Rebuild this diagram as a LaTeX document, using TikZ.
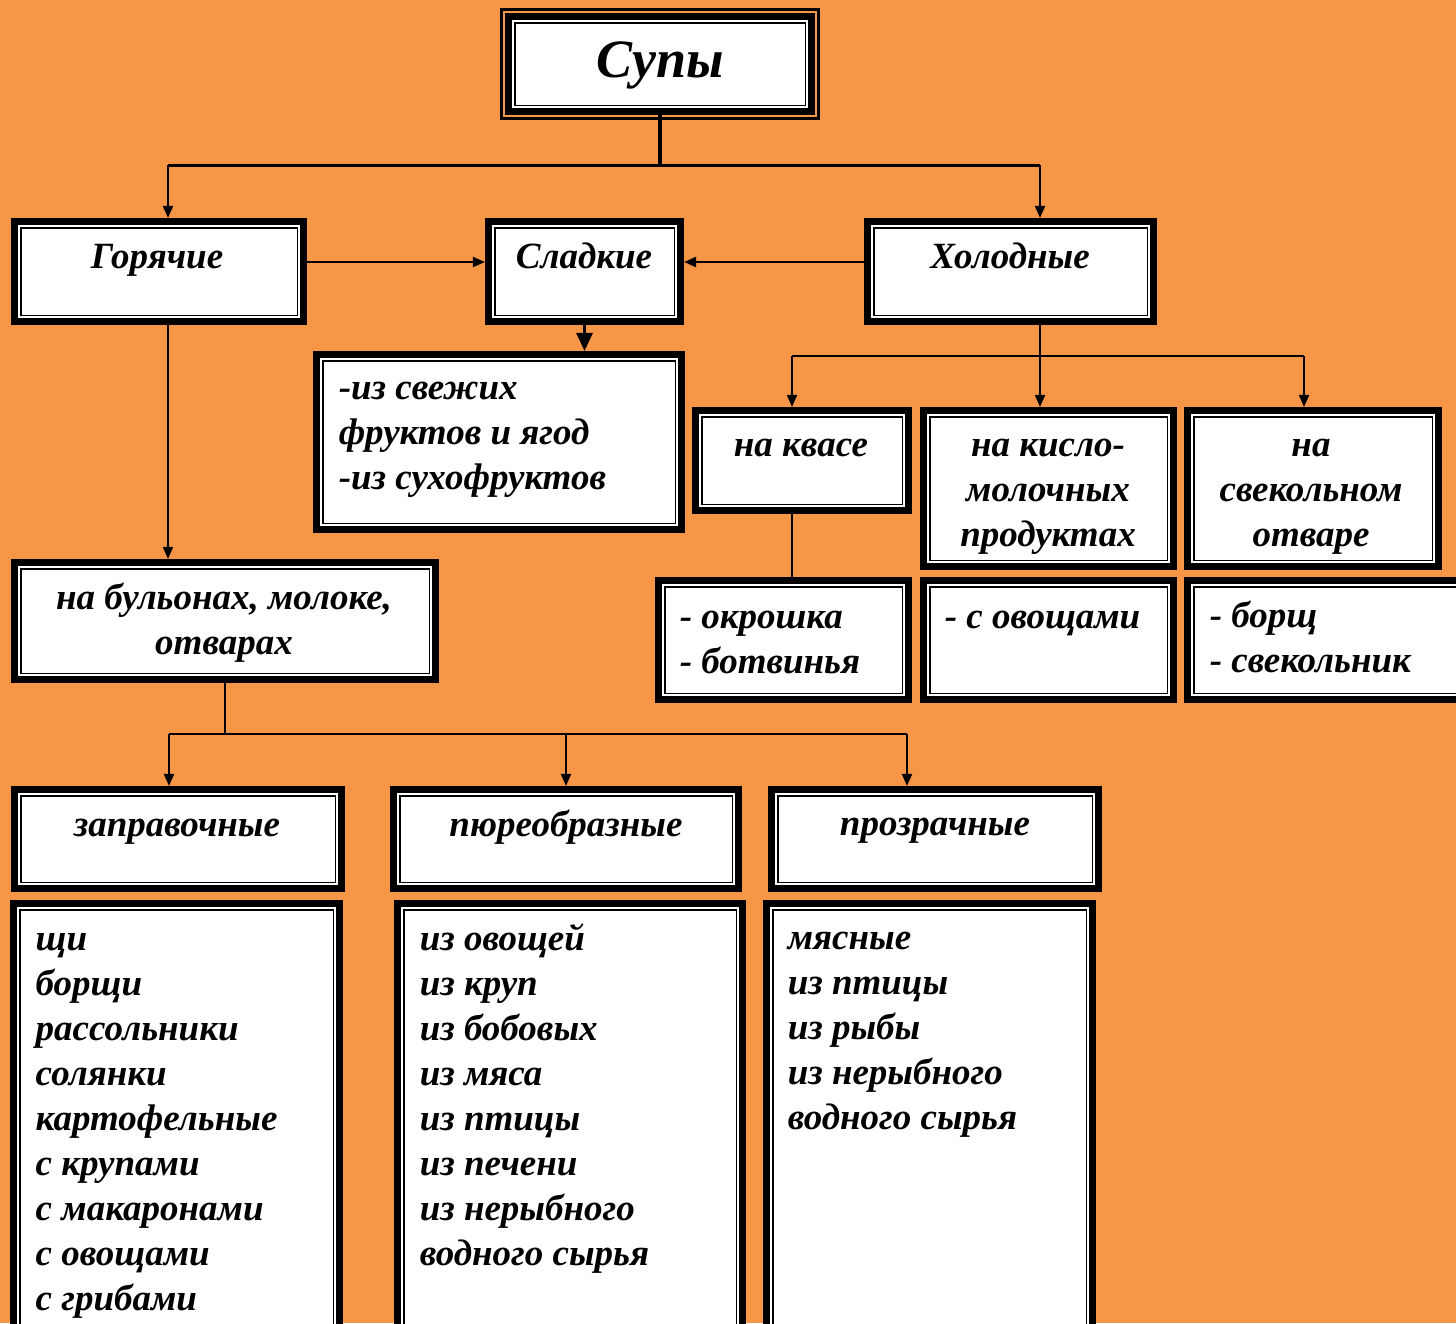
\documentclass[tikz,border=0pt]{standalone}
\usepackage{fontspec}
\setmainfont{Liberation Serif}
\usetikzlibrary{arrows.meta}
\definecolor{bgorange}{HTML}{F79646}

\tikzset{every picture/.style={line width=0.75pt}}
\tikzset{
  box/.style={rectangle, inner sep=0pt, outer sep=4.9pt, fill=white, draw=black, line width=0.75pt,
    preaction={draw=black, line width=9.75pt}, preaction={draw=white, line width=2.75pt}},
  lbl/.style={inner sep=0pt, font=\fontsize{18.5}{22.5}\selectfont\bfseries\itshape},
  arr/.style={-{Triangle[length=6pt,width=5pt]}, line width=1pt},
  link/.style={line width=1pt}
}

\begin{document}
\begin{tikzpicture}[x=0.5pt,y=0.5pt,yscale=-1,xscale=1]
\fill[bgorange] (0,0) rectangle (1456,1323);
\useasboundingbox (0,0) rectangle (1456,1323);
\clip (0,0) rectangle (1456,1323);

%Shape: Rectangle [id:sup]
\draw (660,64) node [draw, line width=1.5pt, minimum width=158.5pt, minimum height=54.5pt, inner sep=0pt] (supfr) {};
\draw (660,64) node [box, minimum width=145.25pt, minimum height=41.25pt] (sup) {};
%Shape: Rectangle [id:gor]
\draw (159,271.5) node [box, minimum width=138.25pt, minimum height=43.75pt] (gor) {};
%Shape: Rectangle [id:sla]
\draw (584.5,271.5) node [box, minimum width=89.75pt, minimum height=43.75pt] (sla) {};
%Shape: Rectangle [id:hol]
\draw (1010.5,271.5) node [box, minimum width=136.75pt, minimum height=43.75pt] (hol) {};
%Shape: Rectangle [id:fruit]
\draw (499,442) node [box, minimum width=176.25pt, minimum height=81.25pt] (fruit) {};
%Shape: Rectangle [id:bul]
\draw (225,621) node [box, minimum width=204.25pt, minimum height=52.25pt] (bul) {};
%Shape: Rectangle [id:kvas]
\draw (802,460.5) node [box, minimum width=100.25pt, minimum height=43.75pt] (kvas) {};
%Shape: Rectangle [id:kis]
\draw (1048.5,488.5) node [box, minimum width=118.75pt, minimum height=71.75pt] (kis) {};
%Shape: Rectangle [id:svek]
\draw (1313,488.5) node [box, minimum width=119.25pt, minimum height=71.75pt] (svek) {};
%Shape: Rectangle [id:okr]
\draw (783.5,640) node [box, minimum width=118.75pt, minimum height=53.25pt] (okr) {};
%Shape: Rectangle [id:ovo]
\draw (1048.5,640) node [box, minimum width=118.75pt, minimum height=53.25pt] (ovo) {};
%Shape: Rectangle [id:bor]
\draw (1327,640) node [box, minimum width=133.25pt, minimum height=53.25pt] (bor) {};
%Shape: Rectangle [id:zap]
\draw (178,839) node [box, minimum width=157.25pt, minimum height=43.25pt] (zap) {};
%Shape: Rectangle [id:pyu]
\draw (566,839) node [box, minimum width=166.25pt, minimum height=43.25pt] (pyu) {};
%Shape: Rectangle [id:pro]
\draw (935,839) node [box, minimum width=157.25pt, minimum height=43.25pt] (pro) {};
%Shape: Rectangle [id:lst1]
\draw (176.5,1122.5) node [box, minimum width=156.75pt, minimum height=212.75pt] (lst1) {};
%Shape: Rectangle [id:lst2]
\draw (570,1122.5) node [box, minimum width=166.25pt, minimum height=212.75pt] (lst2) {};
%Shape: Rectangle [id:lst3]
\draw (929.5,1122.5) node [box, minimum width=156.75pt, minimum height=212.75pt] (lst3) {};

% junction points
\coordinate (tL) at (168,165);
\coordinate (tR) at (1040,165);
\coordinate (hy) at (0,262);
\coordinate (bL) at (169,734);
\coordinate (bM) at (566,734);
\coordinate (bR) at (907,734);
\coordinate (cL) at (792,356);
\coordinate (cR) at (1304,356);

%Straight Lines [id:top]
\draw [line width=2pt] (sup.south) -- (sup.south |- tL);
\draw [line width=1.5pt] (tL) -- (tR);
\draw [arr] (tL) -- (tL |- gor.north);
\draw [arr] (tR) -- (tR |- hol.north);
%Straight Lines [id:sla]
\draw [arr] (gor.east |- hy) -- (sla.west |- hy);
\draw [arr] (hol.west |- hy) -- (sla.east |- hy);
\draw [line width=1.5pt, -{Triangle[length=9pt,width=8pt]}] (sla.south) -- (fruit.north -| sla.south);
%Straight Lines [id:gor]
\draw [arr] (tL |- gor.south) -- (tL |- bul.north);
\draw [link] (bul.south) -- (bul.south |- bL);
\draw [link] (bL) -- (bR);
\draw [arr] (bL) -- (bL |- zap.north);
\draw [arr] (bM) -- (bM |- pyu.north);
\draw [arr] (bR) -- (bR |- pro.north);
%Straight Lines [id:hol]
\draw [link] (tR |- hol.south) -- (tR |- cL);
\draw [link] (cL) -- (cR);
\draw [arr] (cL) -- (cL |- kvas.north);
\draw [arr] (tR |- cL) -- (tR |- kis.north);
\draw [arr] (cR) -- (cR |- svek.north);
\draw [link] (cL |- kvas.south) -- (cL |- okr.north);

% Text Node
\draw (660,77) node [anchor=base][inner sep=0pt][font=\fontsize{27}{32}\selectfont\bfseries\itshape] (tsup) {Супы};
% Text Node
\draw (157,268) node [anchor=base][lbl] (tgor) {Горячие};
% Text Node
\draw (584,268) node [anchor=base][lbl] (tsla) {Сладкие};
% Text Node
\draw (1010,268) node [anchor=base][lbl] (thol) {Холодные};
% Text Node
\draw (338,367.5) node [anchor=north west][lbl, align=left] (tfruit) {\strut -из свежих\\фруктов и ягод\\-из сухофруктов};
% Text Node
\draw (224,577.5) node [anchor=north][lbl, align=center] (tbul) {\strut на бульонах, молоке,\\отварах};
% Text Node
\draw (801,456) node [anchor=base][lbl] (tkvas) {на квасе};
% Text Node
\draw (1048,424.5) node [anchor=north][lbl, align=center] (tkis) {\strut на кисло-\\молочных\\продуктах};
% Text Node
\draw (1311,424.5) node [anchor=north][lbl, align=center] (tsvek) {\strut на\\свекольном\\отваре};
% Text Node
\draw (679,596.5) node [anchor=north west][lbl, align=left] (tokr) {\strut - окрошка\\- ботвинья};
% Text Node
\draw (944,628) node [anchor=base west][lbl] (tovo) {- с овощами};
% Text Node
\draw (1209,595.5) node [anchor=north west][lbl, align=left] (tbor) {\strut - борщ\\- свекольник};
% Text Node
\draw (177,836) node [anchor=base][lbl] (tzap) {заправочные};
% Text Node
\draw (566,836) node [anchor=base][lbl] (tpyu) {пюреобразные};
% Text Node
\draw (935,835) node [anchor=base][lbl] (tpro) {прозрачные};
% Text Node
\draw (35,918.5) node [anchor=north west][lbl, align=left] (tlst1) {\strut щи\\борщи\\рассольники\\солянки\\картофельные\\с крупами\\с макаронами\\с овощами\\с грибами};
% Text Node
\draw (419,918.5) node [anchor=north west][lbl, align=left] (tlst2) {\strut из овощей\\из круп\\из бобовых\\из мяса\\из птицы\\из печени\\из нерыбного\\водного сырья};
% Text Node
\draw (787,917) node [anchor=north west][lbl, align=left] (tlst3) {\strut мясные\\из птицы\\из рыбы\\из нерыбного\\водного сырья};

\end{tikzpicture}
\end{document}
